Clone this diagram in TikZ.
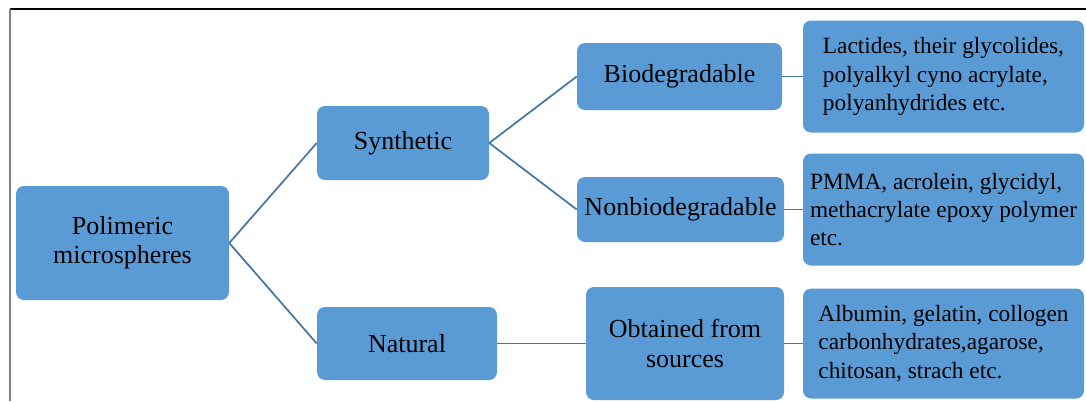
\documentclass[tikz,border=0pt]{standalone}
\usepackage{fontspec}
\setmainfont{Liberation Serif}
\usepackage{xcolor}
\usetikzlibrary{positioning}
\newcommand{\myunit}{0.75pt}
\definecolor{boxblue}{RGB}{91,155,213}
\definecolor{linkblue}{RGB}{70,118,163}
\tikzset{
    boxsty/.style={fill=boxblue,rectangle,rounded corners=6pt,inner sep=0pt,align=center,anchor=center},
    midsty/.style={boxsty,font=\fontsize{19.5}{22}\selectfont},
    leafsty/.style={boxsty,align=left,minimum width=281*\myunit,font=\fontsize{17.5}{21.2}\selectfont},
    linksty/.style={draw=linkblue,line width=1.3pt},
    framesty/.style={line width=1pt},
}

\begin{document}
\begin{tikzpicture}

\useasboundingbox (0,0) rectangle (1086*\myunit,-401*\myunit);
\draw [framesty, black] (10*\myunit,-9*\myunit) -- (1086*\myunit,-9*\myunit);
\draw [framesty, gray, line width=1.4pt] (10*\myunit,-9*\myunit) -- (10*\myunit,-401*\myunit);

\node (Pm) [midsty, minimum width=213*\myunit, minimum height=114*\myunit] at (122.5*\myunit, -243*\myunit) {Polimeric\\microspheres};

\node (Syn) [midsty, minimum width=172*\myunit, minimum height=74*\myunit] at (403*\myunit, -143*\myunit) {Synthetic};
\node (Nat) [midsty, minimum width=180*\myunit, minimum height=73*\myunit] at (407*\myunit, -343.5*\myunit) {Natural};

\node (Bio) [midsty, minimum width=205*\myunit, minimum height=67*\myunit] at (679.5*\myunit, -76.5*\myunit) {Biodegradable};
\node (Nbio) [midsty, minimum width=207*\myunit, minimum height=65*\myunit] at (680.5*\myunit, -209.5*\myunit) {Nonbiodegradable};
\node (Obt) [midsty, minimum width=198*\myunit, minimum height=113*\myunit] at (685*\myunit, -343.5*\myunit) {Obtained from\\sources};

\node (Lac) [leafsty, minimum height=112*\myunit] at (943.5*\myunit, -76.5*\myunit) {Lactides, their glycolides,\\polyalkyl cyno acrylate,\\polyanhydrides etc.};
\node (Pmma) [leafsty, minimum height=112*\myunit] at (943.5*\myunit, -209.5*\myunit) {PMMA, acrolein, glycidyl,\\methacrylate epoxy polymer\\etc.};
\node (Alb) [leafsty, minimum height=110*\myunit] at (943.5*\myunit, -343.5*\myunit) {Albumin, gelatin, collogen\\carbonhydrates,agarose,\\chitosan, strach etc.};

\draw [linksty] (Pm.east) -- (Syn.west);
\draw [linksty] (Pm.east) -- (Nat.west);
\draw [linksty] (Syn.east) -- (Bio.west);
\draw [linksty] (Syn.east) -- (Nbio.west);
\draw [linksty] (Nat.east) -- (Obt.west);
\draw [linksty] (Bio.east) -- (Lac.west);
\draw [linksty] (Nbio.east) -- (Pmma.west);
\draw [linksty] (Obt.east) -- (Alb.west);

\end{tikzpicture}
\end{document}
